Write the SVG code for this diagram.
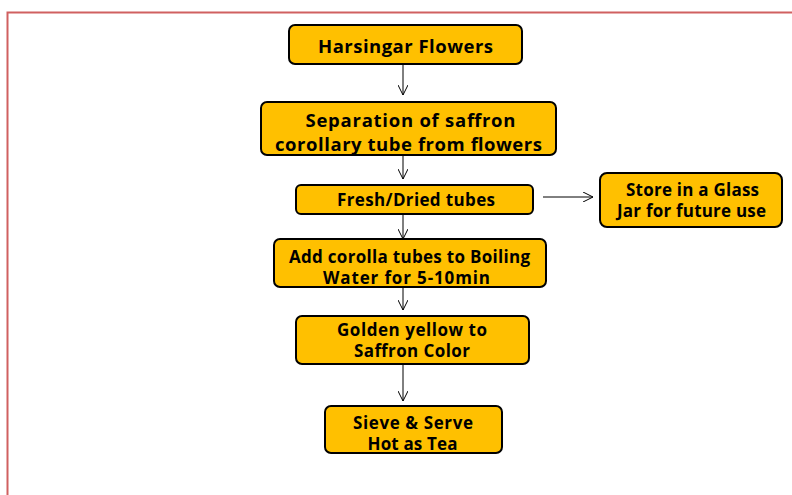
<svg xmlns="http://www.w3.org/2000/svg" width="792" height="495" viewBox="0 0 792 495">
<style>
.box{fill:#FFC000;stroke:#000;stroke-width:2}
.t{font-family:"Open Sans","Liberation Sans",Arial,sans-serif;font-weight:bold;font-size:17px;fill:#000;text-anchor:middle}
.big{font-size:18.5px}
.c{stroke:#000;stroke-width:1;fill:none;marker-end:url(#ah)}
</style>
<defs>
<marker id="ah" viewBox="0 0 10 10" refX="10" refY="5" markerWidth="10" markerHeight="10" markerUnits="userSpaceOnUse" orient="auto">
<path d="M0,0 L10,5 L0,10" fill="none" stroke="#000" stroke-width="1"/>
</marker>
</defs>
<rect x="7.5" y="12.5" width="800" height="500" fill="#fff" stroke="#D06060" stroke-width="2"/>
<g id="connectors">
<line class="c" x1="403" y1="64" x2="403" y2="95"/>
<line class="c" x1="403" y1="155" x2="403" y2="179"/>
<line class="c" x1="403" y1="215" x2="403" y2="239"/>
<line class="c" x1="403" y1="282" x2="403" y2="310"/>
<line class="c" x1="403" y1="364" x2="403" y2="401"/>
<line class="c" x1="543" y1="197" x2="593" y2="197"/>
</g>
<g id="n1"><rect class="box" x="289" y="25" width="233" height="39" rx="6"/><text class="t big" x="405.5" y="52.5" textLength="175" lengthAdjust="spacing">Harsingar Flowers</text></g>
<g id="n2"><rect class="box" x="261" y="102" width="295" height="53" rx="6"/><text class="t big" x="410.5" y="127" textLength="210" lengthAdjust="spacing">Separation of saffron</text><text class="t big" x="408.5" y="150.5" textLength="267" lengthAdjust="spacing">corollary tube from flowers</text></g>
<g id="n3"><rect class="box" x="296" y="185" width="237" height="29" rx="5"/><text class="t" x="416" y="205.5" textLength="158" lengthAdjust="spacing">Fresh/Dried tubes</text></g>
<g id="n4"><rect class="box" x="600" y="173" width="182" height="54" rx="7"/><text class="t" x="692.5" y="196" textLength="133" lengthAdjust="spacing">Store in a Glass</text><text class="t" x="691.5" y="217" textLength="149" lengthAdjust="spacing">Jar for future use</text></g>
<g id="n5"><rect class="box" x="274" y="239" width="272" height="48" rx="6"/><text class="t" x="409.5" y="262.5" textLength="241" lengthAdjust="spacing">Add corolla tubes to Boiling</text><text class="t" x="406.5" y="283.5" textLength="167" lengthAdjust="spacing">Water for 5-10min</text></g>
<g id="n6"><rect class="box" x="296" y="316" width="233" height="48" rx="6"/><text class="t" x="412" y="336" textLength="150" lengthAdjust="spacing">Golden yellow to</text><text class="t" x="412" y="357" textLength="116" lengthAdjust="spacing">Saffron Color</text></g>
<g id="n7"><rect class="box" x="325" y="406" width="177" height="47" rx="6"/><text class="t" x="413" y="429" textLength="120" lengthAdjust="spacing">Sieve &amp; Serve</text><text class="t" x="412.5" y="450" textLength="90" lengthAdjust="spacing">Hot as Tea</text></g>
</svg>
